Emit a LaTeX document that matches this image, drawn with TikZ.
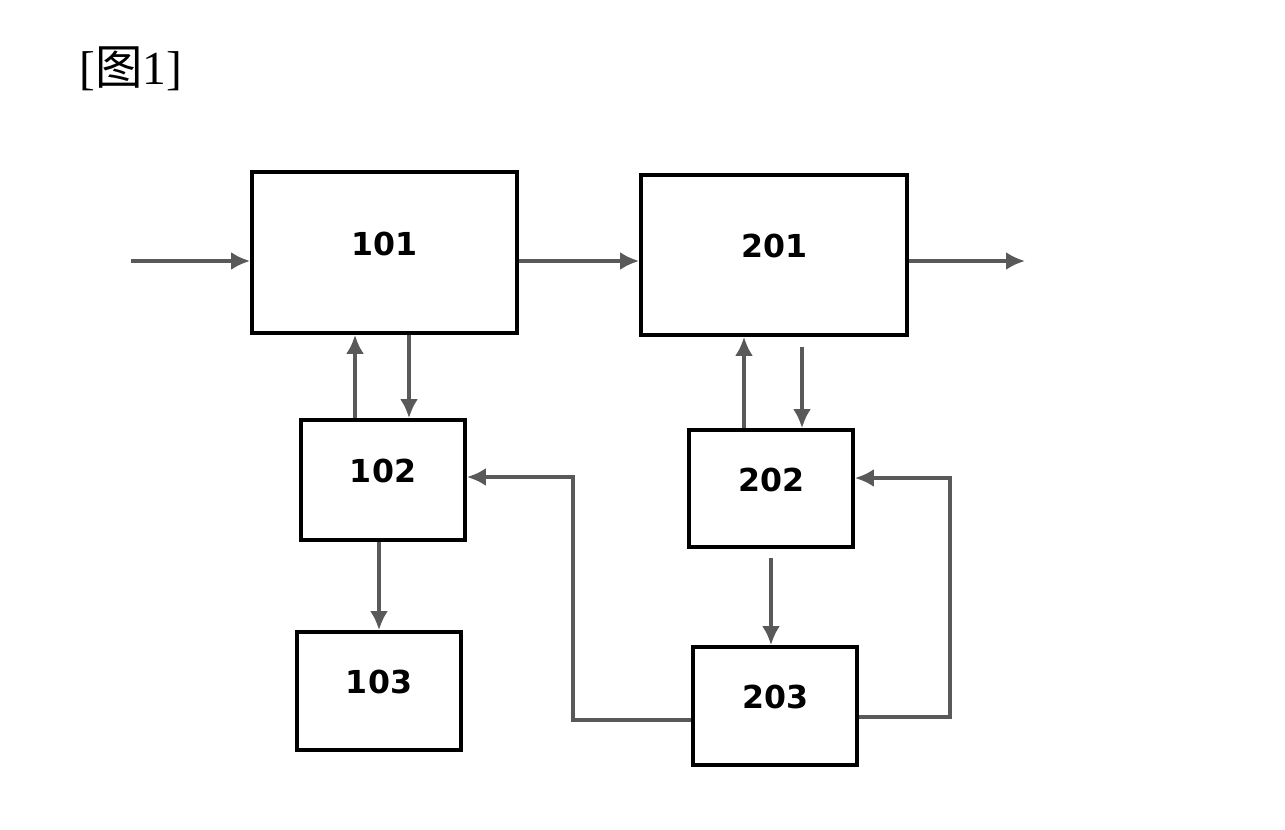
\documentclass[tikz,border=0pt]{standalone}
\usepackage{fontspec}
\setmainfont{Liberation Serif}
\newfontfamily\cjkfont{Noto Sans CJK SC}
\newfontfamily\numfont{DejaVu Sans}
\usetikzlibrary{arrows.meta}

\begin{document}
\begin{tikzpicture}[x=0.02cm,y=-0.02cm,
    blk/.style={draw,line width=2.2pt,inner sep=0pt,text depth=0.36cm,
      font=\numfont\bfseries\fontsize{18}{20}\selectfont},
    flow/.style={draw=black!65,line width=2pt,-{Latex[length=3.8mm,width=3.6mm]}}]
  \useasboundingbox (0,0) rectangle (1285,829);

  \node[font=\fontsize{27}{30}\selectfont] (title) at (131,69) {[{\cjkfont 图}1]};

  % first chain
  \node[blk,minimum width=5.3cm,minimum height=3.22cm] (n101) at (384.5,252.5) {101};
  \node[blk,minimum width=3.28cm,minimum height=2.4cm] (n102) at (383,480) {102};
  \node[blk,minimum width=3.28cm,minimum height=2.36cm] (n103) at (379,691) {103};

  % second chain
  \node[blk,minimum width=5.32cm,minimum height=3.2cm] (n201) at (774,255) {201};
  \node[blk,minimum width=3.28cm,minimum height=2.34cm] (n202) at (771,488.5) {202};
  \node[blk,minimum width=3.28cm,minimum height=2.36cm] (n203) at (775,706) {203};

  \coordinate (in)  at (131,261);
  \coordinate (out) at (1025,261);
  \coordinate (fbL) at (573,477);
  \coordinate (fbR) at (950,478);

  \draw[flow] (in) -- (n101.west |- in);
  \draw[flow] (n101.east |- in) -- (n201.west |- in);
  \draw[flow] (n201.east |- out) -- (out);

  \draw[flow] ([xshift=-0.56cm]n102.north) -- ([xshift=-0.56cm]n102.north |- n101.south);
  \draw[flow] ([xshift=0.49cm]n101.south) -- ([xshift=0.49cm]n101.south |- n102.north);
  \draw[flow] (n103.north |- n102.south) -- (n103.north);

  \draw[flow] ([xshift=-0.54cm]n202.north) -- ([xshift=-0.54cm]n202.north |- n201.south);
  \draw[flow] ([xshift=0.56cm,yshift=-0.2cm]n201.south) -- ([xshift=0.56cm]n201.south |- n202.north);
  \draw[flow] ([yshift=-0.18cm]n202.south) -- (n202.south |- n203.north);

  % feedback loops from 203
  \draw[flow] ([yshift=-0.28cm]n203.west) -| (fbL) -- (n102.east |- fbL);
  \draw[flow] ([yshift=-0.22cm]n203.east) -| (fbR) -- (n202.east |- fbR);
\end{tikzpicture}
\end{document}
